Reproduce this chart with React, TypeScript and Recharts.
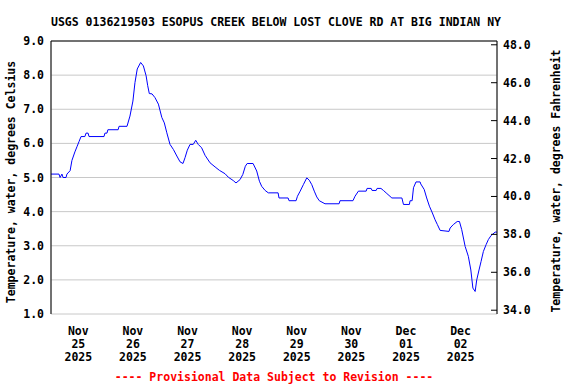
import React from 'react';
import { LineChart, Line, XAxis, YAxis, CartesianGrid, ReferenceLine } from 'recharts';

// hours since 2025-11-25 00:00 local
const hours = [
  0, 3.5, 4, 4.8, 5.3, 6.6, 7, 8.4, 9.2, 10.5,
  11.4, 12.3, 13.2, 14.9, 15.4, 16.3, 16.7, 23.3, 23.7, 24.6,
  25, 29.5, 29.9, 33.4, 34.7, 36, 36.9, 37.9, 39.4, 40.6,
  41.8, 42.5, 43.2, 44.4, 45.7, 47.2, 48.7, 49.8, 50.9, 52.3,
  53.8, 55.3, 56.7, 58, 58.9, 59.9, 61.1, 62.5, 63.6, 64.7,
  66.2, 67.7, 69.9, 72.1, 74, 76.5, 77.9, 80.1, 81.3, 83.1,
  84.3, 85.4, 86.2, 88.8, 90.4, 91.6, 92.6, 94.1, 95.5, 99.8,
  100.2, 104.2, 104.6, 107.7, 108.3, 109.5, 110.9, 112.4, 113.5, 114.6,
  115.7, 116.8, 117.9, 120.4, 126.6, 127, 132.7, 133.6, 135.1, 138.5,
  138.9, 140.7, 141.1, 142.9, 143.3, 145, 146.1, 147.6, 149.8, 154.2,
  154.9, 157.5, 157.8, 158.7, 159.3, 160.4, 162.2, 162.5, 164, 165.1,
  166.3, 167.6, 168.8, 169.8, 171, 174.9, 175.4, 176.8, 178.5, 179.5,
  180.5, 182, 183.4, 184.5, 185.4, 186.4, 187.1, 188.1, 189, 190,
  191.2, 192.2, 193.4, 195.2, 196,
];

// water temperature, degrees Celsius
const tempC = [
  5.1, 5.1, 5.0, 5.1, 5.0, 5.0, 5.1, 5.2, 5.5, 5.75,
  5.9, 6.05, 6.2, 6.2, 6.3, 6.3, 6.2, 6.2, 6.3, 6.3,
  6.4, 6.4, 6.5, 6.5, 6.8, 7.24, 7.78, 8.18, 8.37, 8.27,
  7.98, 7.69, 7.46, 7.45, 7.34, 7.15, 6.76, 6.6, 6.31, 5.97,
  5.82, 5.63, 5.46, 5.41, 5.58, 5.8, 5.97, 5.97, 6.09, 5.97,
  5.87, 5.65, 5.43, 5.31, 5.21, 5.11, 5.01, 4.91, 4.84, 4.94,
  5.09, 5.33, 5.41, 5.41, 5.19, 4.89, 4.74, 4.62, 4.55, 4.55,
  4.4, 4.4, 4.32, 4.32, 4.45, 4.6, 4.79, 4.99, 4.92, 4.79,
  4.6, 4.43, 4.32, 4.23, 4.23, 4.32, 4.32, 4.45, 4.6, 4.6,
  4.68, 4.68, 4.62, 4.62, 4.68, 4.68, 4.62, 4.53, 4.4, 4.4,
  4.21, 4.21, 4.32, 4.32, 4.7, 4.87, 4.87, 4.81, 4.65, 4.4,
  4.16, 3.96, 3.76, 3.62, 3.45, 3.42, 3.52, 3.62, 3.71, 3.71,
  3.47, 2.98, 2.69, 2.29, 1.76, 1.66, 2.0, 2.29, 2.54, 2.83,
  3.03, 3.18, 3.3, 3.4, 3.4,
];

const midnightTicks = [24, 48, 72, 96, 120, 144, 168, 192];
const noonTicks = [12, 36, 60, 84, 108, 132, 156, 180];
const tickMonths = ['Nov', 'Nov', 'Nov', 'Nov', 'Nov', 'Nov', 'Dec', 'Dec'];
const tickDays = ['25', '26', '27', '28', '29', '30', '01', '02'];
const tickYears = ['2025', '2025', '2025', '2025', '2025', '2025', '2025', '2025'];
const celsiusTicks = [1, 2, 3, 4, 5, 6, 7, 8, 9];
const fahrenheitTicks = [34, 36, 38, 40, 42, 44, 46, 48];

const data = hours.map((h, i) => ({ h, c: tempC[i] }));

const FONT = '"DejaVu Sans Mono", "Liberation Mono", monospace';
const FS = 11.5;

const DateTick = (props: any) => {
  const { x, y, index } = props;
  return (
    <g>
      {[tickMonths[index], tickDays[index], tickYears[index]].map((s, k) => (
        <text key={k} x={x} y={y + 21 + k * 13} textAnchor="middle" fontFamily={FONT}
          fontSize={FS} fontWeight="bold" fill="#000">{s}</text>
      ))}
    </g>
  );
};

const RightTick = (props: any) => {
  const { x, y, payload } = props;
  return (
    <g>
      <line x1={x - 12} x2={x - 6} y1={y} y2={y} stroke="#000" />
      <text x={x} y={y} dy="0.35em" textAnchor="start" fontFamily={FONT}
        fontSize={FS} fontWeight="bold" fill="#000">{Number(payload.value).toFixed(1)}</text>
    </g>
  );
};

const textStyle: React.CSSProperties = {
  position: 'absolute',
  fontFamily: FONT,
  fontSize: FS,
  fontWeight: 'bold',
  lineHeight: '14px',
  whiteSpace: 'nowrap',
};

export default function App() {
  return (
    <div style={{ position: 'absolute', left: 0, top: 0, width: 576, height: 384, background: '#fff' }}>
      <LineChart width={576} height={384} data={data} margin={{ top: 41, right: 0, bottom: 0, left: 0 }}>
        <CartesianGrid yAxisId="c" stroke="#c8c8c8" strokeWidth={1} />
        <XAxis dataKey="h" type="number" domain={[0, 196]} ticks={midnightTicks} allowDataOverflow
          height={0} tick={false} tickLine={false} axisLine={{ stroke: '#000' }} />
        <XAxis xAxisId="lab" dataKey="h" type="number" domain={[0, 196]} ticks={noonTicks} allowDataOverflow
          height={70} tickLine={false} axisLine={false} tickSize={0} tickMargin={0} tick={<DateTick />} interval={0} />
        <YAxis yAxisId="c" type="number" domain={[1, 9]} ticks={celsiusTicks} width={51} allowDataOverflow
          tickLine={false} tickSize={0} tickMargin={7} axisLine={{ stroke: '#000' }}
          tickFormatter={(v: number) => v.toFixed(1)} interval={0}
          tick={{ fill: '#000', fontFamily: FONT, fontSize: FS, fontWeight: 'bold' }} />
        <YAxis yAxisId="f" orientation="right" type="number" domain={[33.8, 48.2]} ticks={fahrenheitTicks}
          width={79} allowDataOverflow tickLine={false} tickSize={0} tickMargin={6} interval={0}
          axisLine={{ stroke: '#000' }} tick={<RightTick />} />
        <ReferenceLine yAxisId="c" y={9} stroke="#000" />
        <Line yAxisId="c" type="linear" dataKey="c" stroke="#0000ff" strokeWidth={1}
          dot={false} isAnimationActive={false} />
      </LineChart>
      <div style={{ ...textStyle, left: 51, width: 446, top: 15, textAlign: 'center', color: '#000' }}>
        USGS 0136219503 ESOPUS CREEK BELOW LOST CLOVE RD AT BIG INDIAN NY
      </div>
      <div style={{ ...textStyle, left: 51, width: 446, top: 370, textAlign: 'center', color: '#ff0000' }}>
        ---- Provisional Data Subject to Revision ----
      </div>
      <div style={{ ...textStyle, left: 11, top: 182, transform: 'translate(-50%, -50%) rotate(-90deg)' }}>
        Temperature, water, degrees Celsius
      </div>
      <div style={{ ...textStyle, left: 556, top: 181, transform: 'translate(-50%, -50%) rotate(-90deg)' }}>
        Temperature, water, degrees Fahrenheit
      </div>
    </div>
  );
}
